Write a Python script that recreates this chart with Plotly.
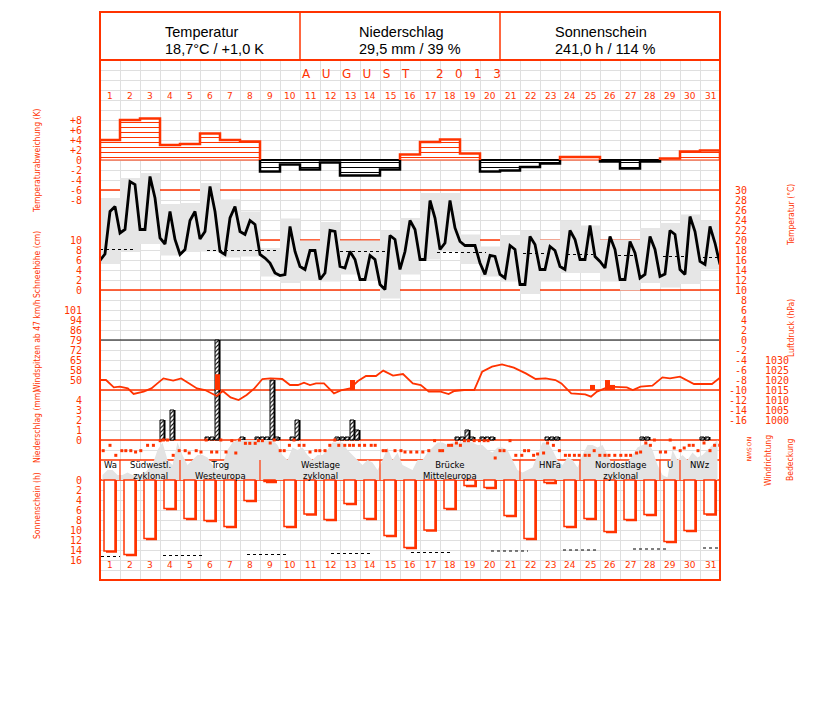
import plotly.graph_objects as go

RED = "#ff3300"
GRID = "#dfdfdf"
BOX = "#e6e6e6"
CLOUD = "#e3e3e3"
MONO = "DejaVu Sans Mono"
NARROW = "Liberation Sans Narrow, DejaVu Sans Condensed, Arial Narrow, sans-serif"

# ---------------- header ----------------
stat_titles = ["Temperatur", "Niederschlag", "Sonnenschein"]
stat_values = ["18,7°C / +1,0 K", "29,5 mm / 39 %", "241,0 h / 114 %"]
month_title = ["AUGUST", "2013"]

days = list(range(1, 32))
day_labels = [str(d) for d in days]

# ---------------- temperature anomaly (K) ----------------
anomaly_k = [4.0, 8.0, 8.3, 3.0, 3.2, 5.3, 4.0, 3.7, -2.3, -0.9, -1.9, -0.5, -3.1, -3.1, -1.9,
             1.1, 3.6, 4.1, 1.3, -2.3, -2.1, -1.4, -0.7, 0.6, 0.6, -0.3, -1.7, -0.3, 0.3, 1.7, 1.9]

# ---------------- temperature (°C) ----------------
tmax_c = [28.4, 32.4, 33.4, 27.2, 27.4, 31.4, 28.1, 25.7, 18.4, 24.3, 19.9, 23.6, 19.9, 19.9, 21.9,
          24.4, 29.4, 29.4, 21.1, 18.7, 21.0, 21.9, 20.1, 23.9, 22.9, 20.1, 20.1, 22.4, 23.4, 25.1, 23.9]
tmin_c = [15.2, 17.6, 19.2, 16.9, 17.6, 17.7, 16.5, 16.7, 12.7, 11.4, 11.9, 11.7, 13.1, 11.9, 8.3,
          13.1, 16.1, 17.7, 15.2, 12.7, 11.7, 9.2, 11.7, 13.4, 13.4, 11.7, 9.9, 11.4, 10.5, 11.2, 14.1]
# 6-hourly temperature, first value at the start of day 1
temp_6h = [15.9, 17.2,
           25.7, 26.7, 21.4, 22.1, 31.7, 31.1, 22.1, 22.1, 32.7, 28.4, 20.4, 19.2,
           25.7, 20.1, 17.1, 18.1, 23.9, 25.7, 20.2, 21.7, 30.7, 25.7, 17.7, 17.1,
           24.4, 26.7, 21.7, 21.1, 23.9, 23.1, 17.1, 16.4, 15.4, 13.4, 12.9, 13.1,
           22.7, 17.7, 14.7, 14.1, 17.9, 17.9, 12.1, 13.4, 21.9, 21.7, 14.7, 14.4,
           17.7, 16.1, 12.1, 12.1, 16.9, 16.1, 11.1, 10.1, 20.9, 20.1, 14.1, 17.7,
           23.9, 22.1, 16.1, 16.1, 27.9, 24.4, 18.1, 19.4, 27.9, 22.4, 19.7, 18.9,
           18.9, 18.9, 15.4, 13.1, 16.9, 16.7, 13.1, 12.4, 18.9, 18.1, 11.1, 11.1,
           20.7, 19.1, 14.1, 14.1, 18.7, 17.9, 14.7, 14.1, 21.9, 20.1, 16.1, 16.1,
           22.9, 16.7, 15.7, 14.4, 20.7, 18.1, 12.1, 12.1, 19.7, 17.4, 12.4, 13.1,
           20.7, 18.1, 12.7, 13.2, 21.9, 21.1, 14.1, 13.1, 24.7, 21.7, 15.7, 15.1,
           22.7, 19.4, 15.1]
clim_temp_from = [0.5, 5.85, 12.5, 17.35, 21.65, 23.85, 26.4, 28.65, 30.65]
clim_temp_to = [2.3, 9.35, 14.85, 19.8, 22.9, 25.15, 27.35, 29.85, 31.4]
clim_temp_val = [18.1, 17.9, 17.7, 17.5, 17.3, 17.1, 16.9, 16.7, 16.5]

snow_cm = [None] * 31

# ---------------- pressure (hPa) ----------------
pres_t = [0.5, 0.8, 1.19, 1.49, 1.89, 2.18, 2.68, 3.07, 3.37, 3.67, 4.16, 4.56, 4.96, 5.35, 5.75,
          6.34, 6.64, 7.03, 7.43, 7.83, 8.22, 8.62, 9.02, 9.61, 10.0, 10.4, 10.7, 11.0, 11.3, 11.7,
          12.2, 12.6, 13.0, 13.4, 13.8, 14.3, 14.66, 15.15, 15.65, 16.14, 16.54, 16.94, 17.53, 17.93,
          18.22, 18.7, 19.21, 19.61, 20.1, 20.6, 21.19, 21.79, 22.28, 22.78, 23.27, 23.57, 24.06,
          24.76, 25.05, 25.35, 25.95, 26.84, 27.14, 27.53, 28.12, 28.62, 29.0, 29.5, 30.2, 31.1, 31.5]
pres_hpa = [1020.0, 1020.0, 1016.3, 1016.7, 1015.8, 1013.0, 1014.2, 1015.8, 1018.3, 1020.8, 1019.7,
            1020.8, 1018.3, 1015.8, 1015.0, 1012.0, 1014.5, 1011.3, 1010.0, 1012.5, 1015.8, 1020.5,
            1020.8, 1020.5, 1017.5, 1017.5, 1018.7, 1017.5, 1018.3, 1018.3, 1013.3, 1015.0, 1015.8,
            1019.5, 1022.0, 1022.0, 1024.7, 1022.2, 1023.0, 1018.3, 1017.5, 1014.2, 1014.2, 1013.0,
            1014.5, 1015.0, 1015.0, 1024.2, 1026.7, 1027.8, 1026.2, 1023.3, 1020.5, 1020.8, 1020.0,
            1018.3, 1013.3, 1012.8, 1011.7, 1014.2, 1016.7, 1016.3, 1015.0, 1016.7, 1017.2, 1021.3,
            1020.8, 1021.7, 1018.0, 1018.0, 1021.2]

# ---------------- wind gusts (km/h) ----------------
gust_t = [6.375, 13.125, 25.125, 25.875, 26.125]
gust_kmh = [54.2, 50.0, 46.4, 50.0, 46.4]

# ---------------- precipitation, 6-hourly (mm) ----------------
precip_t = [3.625, 4.125, 5.875, 6.125, 6.375, 7.625, 8.375, 8.625, 8.875, 9.125, 9.375, 10.125,
            10.375, 12.375, 12.625, 12.875, 13.125, 13.375, 18.375, 18.625, 18.875, 19.125, 19.625,
            19.875, 20.125, 22.875, 23.125, 23.375, 27.625, 27.875, 30.625, 30.875]
precip_mm = [2.0, 3.0, 0.3, 0.3, 10.0, 0.3, 0.3, 0.3, 0.3, 6.0, 0.3, 0.3, 2.0, 0.3, 0.3, 0.3, 2.0,
             1.0, 0.3, 0.3, 1.0, 0.3, 0.3, 0.3, 0.3, 0.3, 0.3, 0.3, 0.3, 0.3, 0.3, 0.3]

# ---------------- wind direction (deg) ----------------
wind_t = [0.66, 1.0, 1.29, 1.59, 1.79, 2.04, 2.28, 2.54, 2.88, 3.17, 3.51, 3.67, 3.87, 4.16, 4.46,
          4.76, 4.96, 5.31, 5.55, 5.81, 6.08, 6.34, 6.54, 6.80, 7.09, 7.29, 7.47, 7.77, 7.99, 8.26,
          8.42, 8.62, 9.01, 9.21, 9.51, 9.71, 9.97, 10.2, 10.46, 10.7, 11.0, 11.29, 11.49, 11.75,
          11.99, 12.24, 12.44, 12.74, 12.98, 13.17, 13.47, 13.73, 14.06, 14.26, 14.66, 14.8, 15.25,
          15.55, 15.75, 16.04, 16.34, 16.64, 16.94, 17.23, 17.49, 17.63, 17.93, 18.08, 18.32, 18.52,
          18.72, 18.92, 19.21, 19.47, 19.71, 19.9, 20.26, 20.5, 20.7, 21.0, 21.29, 21.59, 21.73,
          21.93, 22.18, 22.38, 22.68, 22.88, 23.17, 23.47, 23.77, 23.97, 24.22, 24.46, 24.76, 24.96,
          25.21, 25.49, 25.75, 25.95, 26.24, 26.54, 26.8, 27.03, 27.33, 27.53, 27.79, 28.02, 28.22,
          28.52, 28.78, 29.01, 29.21, 29.51, 29.71, 29.96, 30.16, 30.4, 30.7, 31.0, 31.23, 31.49]
wind_deg = [192, 96, 276, 192, 192, 192, 216, 192, 96, 96, 12, 0, 0, 276, 192, 192, 234, 192, 216,
            0, 216, 216, 0, 216, 12, 234, 0, 60, 60, 60, 12, 12, 54, 0, 192, 192, 96, 0, 96, 96, 216,
            192, 192, 192, 96, 0, 96, 96, 96, 96, 96, 96, 96, 96, 192, 192, 192, 192, 216, 216, 216,
            216, 192, 12, 192, 192, 96, 96, 54, 96, 12, 12, 12, 12, 12, 12, 324, 192, 192, 12, 276,
            276, 192, 192, 276, 252, 234, 54, 96, 192, 276, 276, 276, 276, 276, 276, 192, 276, 276,
            276, 276, 276, 276, 276, 234, 216, 54, 96, 0, 216, 216, 0, 144, 192, 144, 96, 96, 192,
            54, 192, 96, 96]

# ---------------- cloud cover (octa), 4 values per day ----------------
cloud_octa = [[1, 2, 2, 1], [1, 1.5, 1, 1], [1, 2, 3, 6], [7.5, 4, 3, 7.5], [5, 3, 4, 5],
              [5, 4.5, 3, 2], [3, 6, 7.5, 8], [8, 8, 8, 8], [8, 8, 8, 7], [5, 4, 6.5, 6],
              [6.5, 5, 4, 5], [5, 6, 7.5, 7.5], [7.5, 6, 5, 4], [3, 4, 3.5, 2], [4, 6.5, 4, 5.5],
              [3, 2.5, 2, 4], [4, 5.5, 6.5, 7.5], [7.5, 7, 7.5, 7.5], [7.5, 8, 7.5, 7], [7, 6, 5.5, 6.5],
              [6.5, 6, 4, 2], [1.5, 2, 2.5, 5], [7.5, 7.5, 6, 4], [3, 4.5, 4, 2.5], [5, 7, 7, 6.5],
              [7, 5, 3, 3.5], [3, 3.5, 5, 6.5], [7, 7.5, 6, 3], [1, 0.5, 6, 4], [5, 4, 5.5, 4.5],
              [5, 6, 7, 8]]

# ---------------- Großwetterlagen ----------------
gwl_names = ["Wa", "Südwestl.|zyklonal", "Trog|Westeuropa", "Westlage|zyklonal",
             "Brücke|Mitteleuropa", "HNFa", "Nordostlage|zyklonal", "U", "NWz"]
gwl_first = [1, 2, 5, 9, 15, 22, 25, 29, 30]
gwl_last = [1, 4, 8, 14, 21, 24, 28, 29, 31]

# ---------------- sunshine (h) ----------------
sun_h = [14.2, 14.9, 11.7, 5.7, 7.7, 8.1, 9.3, 4.1, 0.3, 9.3, 6.8, 7.9, 4.7, 7.7, 11.1, 13.5,
         10.0, 5.7, 1.1, 1.5, 7.1, 11.7, 0.5, 9.3, 7.7, 10.3, 7.9, 6.9, 12.3, 10.1, 6.8]
clim_sun_from = [0.55, 3.65, 7.85, 12.05, 16.05, 20.05, 23.65, 27.15, 30.65]
clim_sun_to = [1.5, 5.7, 9.9, 14.0, 18.0, 21.9, 25.4, 28.9, 31.5]
clim_sun_val = [15.3, 15.1, 14.9, 14.7, 14.5, 14.2, 14.0, 13.8, 13.6]

# axis labels
temp_ticks = list(range(30, -17, -2))
pres_ticks = [1000, 1005, 1010, 1015, 1020, 1025, 1030]
anom_ticks = [-8, -6, -4, -2, 0, 2, 4, 6, 8]
snow_ticks = [0, 2, 4, 6, 8, 10]
gust_labels = ["50", "58", "65", "72", "79", "86", "94", "101"]
precip_ticks = [0, 1, 2, 3, 4]
sun_ticks = list(range(0, 17, 2))
wind_ticks = [0, 90, 180, 270, 360]
wind_labels = ["N", "O", "S", "W", "N"]

# ================= geometry helpers (layout only) =================
# page offset of the plot div (body margin) is 8 px
OFF = 8
TOP, BOT, LEFT, RIGHT = 60, 580, 100, 720
FIG_W, FIG_H = 811, 686


def pxx(p):
    return (p - LEFT) / (RIGHT - LEFT)


def pxy(p):
    return (BOT - p) / (BOT - TOP)


def gy(p):  # value on the grid axis (10 px per unit)
    return (BOT - p) / 10.0


def lin_range(v_ref, p_ref, per_px):
    return [v_ref + (p_ref - BOT) * per_px, v_ref + (p_ref - TOP) * per_px]


fig = go.Figure()

# ---- temperature boxes, climate line, curve (y2)
bx, by = [], []
for d, hi, lo in zip(days, tmax_c, tmin_c):
    bx += [d - 0.5, d + 0.5, d + 0.5, d - 0.5, d - 0.5, None]
    by += [lo, lo, hi, hi, lo, None]
fig.add_trace(go.Scatter(x=bx, y=by, yaxis="y2", mode="lines", fill="toself", fillcolor=BOX,
                         line=dict(width=0, color=BOX), hoverinfo="skip"))
cx, cy = [], []
for a, b, v in zip(clim_temp_from, clim_temp_to, clim_temp_val):
    cx += [a, b, None]
    cy += [v, v, None]
fig.add_trace(go.Scatter(x=cx, y=cy, yaxis="y2", mode="lines",
                         line=dict(color="black", width=1, dash="dot"), hoverinfo="skip"))
temp_t = [0.5 + 0.25 * i for i in range(len(temp_6h))]
fig.add_trace(go.Scatter(x=temp_t, y=temp_6h, yaxis="y2", mode="lines",
                         line=dict(color="black", width=2.8), hoverinfo="skip"))

# ---- anomaly (y3)
pos_v = [v if v > 0 else None for v in anomaly_k]
neg_v = [v if v < 0 else None for v in anomaly_k]
for vals, col in ((pos_v, RED), (neg_v, "black")):
    fig.add_trace(go.Bar(x=days, y=vals, yaxis="y3", width=1.0,
                         marker=dict(color="white", line=dict(width=0),
                                     pattern=dict(shape="-", fgcolor=col, bgcolor="white",
                                                  size=5, solidity=0.2)),
                         hoverinfo="skip"))
pts = [(days[0] - 0.5, 0.0)]
for d, v in zip(days, anomaly_k):
    pts += [(d - 0.5, v), (d + 0.5, v)]
pts.append((days[-1] + 0.5, 0.0))
full = [pts[0]]
for (x0, y0), (x1, y1) in zip(pts, pts[1:]):
    if y0 * y1 < 0:
        full.append((x0, 0.0))
    full.append((x1, y1))
lines = {"p": ([], []), "n": ([], [])}
cur = None
for (x0, y0), (x1, y1) in zip(full, full[1:]):
    m = y0 + y1
    if m == 0:
        continue
    s = "p" if m > 0 else "n"
    lx, ly = lines[s]
    if cur != s:
        if lx:
            lx.append(None)
            ly.append(None)
        lx.append(x0)
        ly.append(y0)
    lx.append(x1)
    ly.append(y1)
    cur = s
zl = {"p": ([], []), "n": ([], [])}
for d, v in zip(days, anomaly_k):
    s = "p" if v > 0 else "n"
    zl[s][0].extend([d - 0.5, d + 0.5, None])
    zl[s][1].extend([0, 0, None])
fig.add_trace(go.Scatter(x=zl["p"][0], y=zl["p"][1], yaxis="y3", mode="lines",
                         line=dict(color=RED, width=1), hoverinfo="skip"))
fig.add_trace(go.Scatter(x=zl["n"][0], y=zl["n"][1], yaxis="y3", mode="lines",
                         line=dict(color="black", width=2), hoverinfo="skip"))
fig.add_trace(go.Scatter(x=lines["p"][0], y=lines["p"][1], yaxis="y3", mode="lines",
                         line=dict(color=RED, width=2.5), hoverinfo="skip"))
fig.add_trace(go.Scatter(x=lines["n"][0], y=lines["n"][1], yaxis="y3", mode="lines",
                         line=dict(color="black", width=2.5), hoverinfo="skip"))

# ---- precipitation (y4)
fig.add_trace(go.Bar(x=precip_t, y=precip_mm, yaxis="y4", width=0.2, offset=-0.05,
                     marker=dict(color="black", line=dict(width=0)), hoverinfo="skip"))
fig.add_trace(go.Bar(x=precip_t, y=precip_mm, yaxis="y4", width=0.2, offset=-0.125,
                     marker=dict(color="white", line=dict(width=1, color="black"),
                                 pattern=dict(shape="/", fgcolor="black", bgcolor="white",
                                              size=3, solidity=0.35)),
                     hoverinfo="skip"))

# ---- gusts (y5)
GUST_BASE = 50 - 10 * (51 / 70)
fig.add_trace(go.Bar(x=gust_t, y=[g - GUST_BASE for g in gust_kmh], base=GUST_BASE, yaxis="y5",
                     width=0.25, offset=-0.125, marker=dict(color=RED, line=dict(width=0)),
                     hoverinfo="skip"))

# ---- pressure (y6)
fig.add_trace(go.Scatter(x=pres_t, y=pres_hpa, yaxis="y6", mode="lines",
                         line=dict(color=RED, width=1.8), hoverinfo="skip"))

# ---- cloud cover (y7)
ct, cv = [], []
for d, quad in zip(days, cloud_octa):
    for k, v in enumerate(quad):
        ct.append(d - 0.375 + 0.25 * k)
        cv.append(v)
fig.add_trace(go.Scatter(x=ct, y=cv, yaxis="y7", mode="lines", fill="tozeroy",
                         fillcolor=CLOUD, line=dict(width=0, color=CLOUD), hoverinfo="skip"))

# ---- wind direction (y8)
fig.add_trace(go.Scatter(x=wind_t, y=wind_deg, yaxis="y8", mode="markers",
                         marker=dict(symbol="square", size=3, color=RED, line=dict(width=0)),
                         hoverinfo="skip"))

# ---- sunshine (y9)
fig.add_trace(go.Bar(x=days, y=[s + 0.35 for s in sun_h], yaxis="y9", width=0.55, offset=-0.2,
                     marker=dict(color=RED, line=dict(width=0)), hoverinfo="skip"))
fig.add_trace(go.Bar(x=days, y=sun_h, yaxis="y9", width=0.55, offset=-0.3,
                     marker=dict(color="white", line=dict(width=1.5, color=RED)), hoverinfo="skip"))
sx, sy = [], []
for a, b, v in zip(clim_sun_from, clim_sun_to, clim_sun_val):
    sx += [a, b, None]
    sy += [v, v, None]
fig.add_trace(go.Scatter(x=sx, y=sy, yaxis="y9", mode="lines",
                         line=dict(color="black", width=1, dash="dot"), hoverinfo="skip"))

# ---- snow depth (y10)
fig.add_trace(go.Scatter(x=days, y=snow_cm, yaxis="y10", mode="lines",
                         line=dict(color="black", width=2), hoverinfo="skip"))

# ================= axes =================
tickfont = dict(family=MONO, size=10, color=RED)


def side_axis(rng, side, vals, text, standoff, angle=None, font=None):
    d = dict(overlaying="y", anchor="free", position=0 if side == "left" else 1, side=side,
             range=rng, showgrid=False, zeroline=False, showline=False, ticks="",
             tickmode="array", tickvals=vals, ticktext=text, tickfont=font or tickfont,
             ticklabelstandoff=standoff, fixedrange=True)
    if angle is not None:
        d["tickangle"] = angle
    return d


def pad(s, n):
    return "\u00a0" * (n - len(s)) + s


gust_vals = [50 + k * 51 / 7 for k in range(8)]

fig.update_layout(
    width=FIG_W, height=FIG_H, template="none",
    margin=dict(l=LEFT - OFF, r=FIG_W - (RIGHT - OFF), t=TOP - OFF, b=FIG_H - (BOT - OFF)),
    paper_bgcolor="white", plot_bgcolor="white", showlegend=False, barmode="overlay",
    xaxis=dict(range=[0.5, 31.5], tick0=0.5, dtick=1, showgrid=True, gridcolor=GRID, gridwidth=1,
               zeroline=False, showticklabels=False, ticks="", showline=False, fixedrange=True),
    yaxis=dict(range=[0, 52], tick0=0, dtick=1, showgrid=True, gridcolor=GRID, gridwidth=1,
               zeroline=False, showticklabels=False, ticks="", showline=False, fixedrange=True),
    yaxis2=side_axis(lin_range(30, 190, 0.2), "right", temp_ticks,
                     [pad(str(t), 3) for t in temp_ticks], 8),
    yaxis3=side_axis(lin_range(0, 160, 0.2), "left", anom_ticks,
                     [("+" + str(t)) if t > 0 else str(t) for t in anom_ticks], 18),
    yaxis4=side_axis(lin_range(0, 440, 0.1), "left", precip_ticks,
                     [str(t) for t in precip_ticks], 18),
    yaxis5=side_axis(lin_range(50, 380, 51 / 70), "left", gust_vals, gust_labels, 18),
    yaxis6=side_axis(lin_range(1015, 390, 0.5), "right", pres_ticks,
                     [str(t) for t in pres_ticks], 44),
    yaxis7=dict(overlaying="y", range=lin_range(0, 480, 0.2), showgrid=False, zeroline=False,
                showticklabels=False, ticks="", showline=False, fixedrange=True),
    yaxis8=side_axis(lin_range(0, 440, -18), "right", wind_ticks, wind_labels, 25, angle=90,
                     font=dict(family="DejaVu Sans", size=6, color=RED)),
    yaxis9=side_axis(lin_range(0, 480, -0.2), "left", sun_ticks, [str(t) for t in sun_ticks], 18),
    yaxis10=side_axis(lin_range(0, 290, 0.2), "left", snow_ticks, [str(t) for t in snow_ticks], 18),
)

# ================= shapes =================
shapes = []
shapes.append(dict(type="rect", xref="x", yref="y", x0=0.5, x1=31.5, y0=gy(480), y1=gy(460),
                   fillcolor="white", line=dict(width=0), layer="between"))
for p in (190, 240, 290, 390, 440, 460, 480):
    shapes.append(dict(type="line", xref="x", yref="y", x0=0.5, x1=31.5, y0=gy(p), y1=gy(p),
                       line=dict(color=RED, width=1.5), layer="between"))
shapes.append(dict(type="line", xref="x", yref="y", x0=0.5, x1=31.5, y0=gy(340), y1=gy(340),
                   line=dict(color="black", width=1), layer="between"))
for f in gwl_first[1:]:
    shapes.append(dict(type="line", xref="x", yref="y", x0=f - 0.5, x1=f - 0.5,
                       y0=gy(480), y1=gy(460), line=dict(color=RED, width=1.2), layer="above"))
shapes.append(dict(type="rect", xref="paper", yref="paper", x0=0, x1=1, y0=0, y1=pxy(12),
                   line=dict(color=RED, width=2), layer="above"))
shapes.append(dict(type="line", xref="paper", yref="paper", x0=0, x1=1, y0=1, y1=1,
                   line=dict(color=RED, width=2), layer="above"))
for xp in (300, 500):
    shapes.append(dict(type="line", xref="paper", yref="paper", x0=pxx(xp), x1=pxx(xp),
                       y0=1, y1=pxy(12), line=dict(color=RED, width=1.5), layer="above"))
fig.update_layout(shapes=shapes)

# ================= annotations =================
ann = []


def A(text, x, y, size, color="black", family="Liberation Sans", xanchor="center",
      yanchor="middle", angle=0, xref="paper"):
    ann.append(dict(text=text, x=x, y=y, xref=xref, yref="paper", showarrow=False,
                    xanchor=xanchor, yanchor=yanchor, textangle=angle,
                    font=dict(family=family, size=size, color=color)))


for title, val, xl in zip(stat_titles, stat_values, (163, 357, 553)):
    A(title, pxx(xl), pxy(32), 14.5, xanchor="left")
    A(val, pxx(xl), pxy(49), 14.5, xanchor="left")

sp = "\u00a0" * 3
A(sp.join(month_title[0]) + "\u00a0" * 7 + sp.join(month_title[1]), pxx(401), pxy(74), 12,
  color=RED, family="DejaVu Sans")

for d, lab in zip(days, day_labels):
    A(lab, d, pxy(96), 9, color=RED, family="DejaVu Sans", xref="x")
    A(lab, d, pxy(565), 9, color=RED, family="DejaVu Sans", xref="x")

for name, a, b in zip(gwl_names, gwl_first, gwl_last):
    parts = name.split("|")
    xc = (a + b) / 2
    if len(parts) > 1:
        A("<br>".join(parts), xc, pxy(457.5), 8.5, family="DejaVu Sans", yanchor="top", xref="x")
    else:
        A(parts[0], xc, pxy(464.5), 8.5, family="DejaVu Sans", xref="x")

for txt, yc in (("Temperaturabweichung (K)", 161), ("Schneehöhe (cm)", 265),
                ("Windspitzen ab 47 km/h", 346), ("Niederschlag (mm)", 427),
                ("Sonnenschein (h)", 506)):
    A(txt, pxx(37), pxy(yc), 8.5, color=RED, family=NARROW, angle=-90)
for txt, xc, yc in (("Temperatur (°C)", 791, 215), ("Luftdruck (hPa)", 791, 328),
                    ("Windrichtung", 768, 461), ("Bedeckung", 790, 459)):
    A(txt, pxx(xc), pxy(yc), 8.5, color=RED, family=NARROW, angle=-90)

fig.update_layout(annotations=ann)

fig.write_html("out.html")
